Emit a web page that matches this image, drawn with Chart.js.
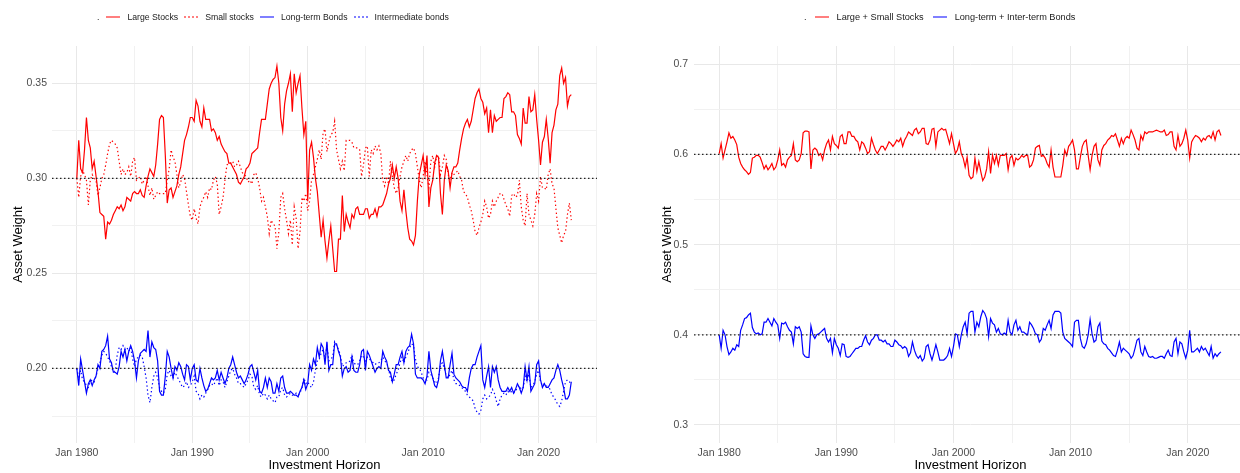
<!DOCTYPE html>
<html>
<head>
<meta charset="utf-8">
<script src="https://cdn.jsdelivr.net/npm/chart.js@4.4.0/dist/chart.umd.min.js"></script>
<style>
  html, body { margin: 0; padding: 0; background: #fff; overflow: hidden; }
  body { width: 1240px; height: 473px; position: relative; font-family: "Liberation Sans", Arial, sans-serif; }
  canvas { position: absolute; top: 0; }
  .legend { position: absolute; top: 12px; display: flex; align-items: center; font-size: 8.7px; line-height: 10px; color: #1a1a1a; white-space: nowrap; }
  .legend .ttl { margin-right: 7px; align-self: flex-end; }
  .legend .item { display: flex; align-items: center; margin-right: 6px; }
  .legend .key { width: 14px; height: 0; border-top: 2px solid; margin-right: 7px; }
  #rightLegend { font-size: 9.2px; top: 11.5px; }
  #rightLegend .ttl { margin-right: 8px; }
  #rightLegend .item { margin-right: 9px; }
  #rightLegend .key { margin-right: 8px; }
</style>
</head>
<body>
<canvas id="leftChart" width="597" height="473" style="left:0"></canvas>
<canvas id="rightChart" width="607" height="473" style="left:640px"></canvas>
<div class="legend" id="leftLegend" style="left:97px"></div>
<div class="legend" id="rightLegend" style="left:804px"></div>
<script>
// one point every 2 months, Jan 1980 onwards
const startYear = 1980;
const stepMonths = 2;

const largeStocks = [
  0.300, 0.320, 0.305, 0.303, 0.315, 0.332, 0.320, 0.316, 0.305, 0.309, 0.301, 0.293,
  0.282, 0.281, 0.280, 0.268, 0.277, 0.276, 0.278, 0.281, 0.283, 0.285, 0.284, 0.286,
  0.283, 0.285, 0.290, 0.289, 0.288, 0.292, 0.293, 0.292, 0.292, 0.294, 0.291, 0.290,
  0.296, 0.301, 0.305, 0.303, 0.301, 0.307, 0.318, 0.331, 0.333, 0.332, 0.312, 0.287,
  0.294, 0.295, 0.290, 0.293, 0.296, 0.302, 0.306, 0.313, 0.320, 0.323, 0.327, 0.332,
  0.332, 0.330, 0.341, 0.338, 0.330, 0.327, 0.337, 0.331, 0.331, 0.331, 0.325, 0.326,
  0.324, 0.320, 0.322, 0.318, 0.316, 0.314, 0.313, 0.308, 0.308, 0.306, 0.304, 0.302,
  0.298, 0.297, 0.299, 0.301, 0.305, 0.306, 0.308, 0.313, 0.314, 0.315, 0.316, 0.324,
  0.331, 0.331, 0.331, 0.339, 0.347, 0.350, 0.352, 0.353, 0.359, 0.350, 0.332, 0.325,
  0.339, 0.346, 0.350, 0.355, 0.335, 0.355, 0.345, 0.350, 0.354, 0.337, 0.323, 0.330,
  0.288, 0.315, 0.319, 0.311, 0.300, 0.293, 0.281, 0.269, 0.278, 0.267, 0.258, 0.267,
  0.275, 0.263, 0.251, 0.251, 0.268, 0.268, 0.291, 0.272, 0.281, 0.277, 0.274, 0.281,
  0.279, 0.284, 0.285, 0.281, 0.281, 0.281, 0.284, 0.284, 0.279, 0.281, 0.281, 0.284,
  0.280, 0.285, 0.285, 0.286, 0.289, 0.292, 0.297, 0.300, 0.307, 0.300, 0.306, 0.300,
  0.288, 0.283, 0.294, 0.283, 0.274, 0.268, 0.267, 0.265, 0.270, 0.288, 0.302, 0.307,
  0.312, 0.302, 0.312, 0.285, 0.295, 0.299, 0.308, 0.312, 0.311, 0.292, 0.281, 0.299,
  0.307, 0.304, 0.295, 0.303, 0.306, 0.306, 0.308, 0.315, 0.321, 0.326, 0.329, 0.331,
  0.327, 0.330, 0.336, 0.342, 0.345, 0.347, 0.342, 0.340, 0.334, 0.337, 0.324, 0.336,
  0.324, 0.333, 0.330, 0.331, 0.332, 0.332, 0.342, 0.343, 0.345, 0.344, 0.335, 0.335,
  0.333, 0.323, 0.321, 0.318, 0.337, 0.329, 0.329, 0.343, 0.335, 0.336, 0.344, 0.331,
  0.320, 0.307, 0.319, 0.322, 0.331, 0.321, 0.308, 0.324, 0.328, 0.336, 0.339, 0.354,
  0.358, 0.350, 0.353, 0.338, 0.343, 0.344
];

const smallStocks = [
  0.300, 0.290, 0.301, 0.304, 0.302, 0.299, 0.286, 0.299, 0.302, 0.300, 0.299, 0.291,
  0.295, 0.300, 0.302, 0.307, 0.313, 0.318, 0.320, 0.319, 0.318, 0.316, 0.309, 0.302,
  0.305, 0.302, 0.303, 0.306, 0.301, 0.309, 0.311, 0.299, 0.300, 0.301, 0.297, 0.299,
  0.301, 0.296, 0.291, 0.295, 0.289, 0.291, 0.293, 0.292, 0.292, 0.292, 0.292, 0.299,
  0.305, 0.315, 0.311, 0.309, 0.302, 0.295, 0.298, 0.302, 0.300, 0.293, 0.286, 0.280,
  0.278, 0.284, 0.279, 0.276, 0.285, 0.288, 0.290, 0.293, 0.290, 0.295, 0.294, 0.299,
  0.301, 0.297, 0.281, 0.285, 0.290, 0.299, 0.307, 0.308, 0.308, 0.309, 0.306, 0.307,
  0.309, 0.306, 0.303, 0.302, 0.301, 0.298, 0.299, 0.297, 0.302, 0.303, 0.300, 0.295,
  0.288, 0.290, 0.285, 0.280, 0.271, 0.278, 0.276, 0.275, 0.263, 0.272, 0.290, 0.292,
  0.284, 0.278, 0.271, 0.278, 0.265, 0.285, 0.279, 0.263, 0.272, 0.290, 0.288, 0.292,
  0.283, 0.288, 0.299, 0.302, 0.306, 0.310, 0.315, 0.310, 0.324, 0.326, 0.314, 0.319,
  0.323, 0.324, 0.330, 0.315, 0.310, 0.305, 0.309, 0.304, 0.320, 0.320, 0.320, 0.319,
  0.316, 0.316, 0.316, 0.315, 0.301, 0.307, 0.316, 0.317, 0.301, 0.315, 0.313, 0.317,
  0.315, 0.317, 0.313, 0.299, 0.296, 0.301, 0.297, 0.309, 0.301, 0.295, 0.292, 0.295,
  0.301, 0.306, 0.309, 0.312, 0.309, 0.313, 0.315, 0.316, 0.313, 0.306, 0.299, 0.295,
  0.301, 0.309, 0.302, 0.295, 0.309, 0.312, 0.306, 0.311, 0.312, 0.302, 0.306, 0.312,
  0.310, 0.302, 0.299, 0.303, 0.302, 0.303, 0.304, 0.301, 0.299, 0.293, 0.292, 0.290,
  0.286, 0.283, 0.278, 0.272, 0.270, 0.274, 0.277, 0.281, 0.288, 0.285, 0.279, 0.281,
  0.288, 0.285, 0.288, 0.290, 0.292, 0.292, 0.289, 0.286, 0.284, 0.280, 0.291, 0.292,
  0.290, 0.291, 0.299, 0.285, 0.278, 0.275, 0.292, 0.281, 0.278, 0.275, 0.281, 0.292,
  0.288, 0.301, 0.295, 0.295, 0.294, 0.302, 0.305, 0.297, 0.295, 0.284, 0.274, 0.270,
  0.266, 0.270, 0.272, 0.281, 0.287, 0.278
];

const longBonds = [
  0.200, 0.191, 0.205, 0.199, 0.193, 0.187, 0.192, 0.194, 0.191, 0.194, 0.196, 0.202,
  0.200, 0.209, 0.210, 0.212, 0.217, 0.205, 0.203, 0.198, 0.198, 0.197, 0.201, 0.209,
  0.206, 0.210, 0.204, 0.209, 0.212, 0.209, 0.204, 0.195, 0.204, 0.208, 0.209, 0.210,
  0.209, 0.220, 0.206, 0.214, 0.211, 0.210, 0.204, 0.188, 0.186, 0.186, 0.196, 0.209,
  0.206, 0.200, 0.195, 0.201, 0.199, 0.203, 0.201, 0.197, 0.194, 0.202, 0.201, 0.194,
  0.200, 0.202, 0.194, 0.193, 0.200, 0.195, 0.191, 0.188, 0.189, 0.192, 0.195, 0.194,
  0.195, 0.199, 0.194, 0.198, 0.195, 0.192, 0.195, 0.200, 0.202, 0.206, 0.202, 0.198,
  0.195, 0.196, 0.194, 0.192, 0.194, 0.197, 0.201, 0.202, 0.198, 0.194, 0.199, 0.188,
  0.187, 0.190, 0.195, 0.190, 0.195, 0.193, 0.187, 0.187, 0.192, 0.188, 0.195, 0.196,
  0.190, 0.187, 0.187, 0.188, 0.187, 0.186, 0.186, 0.185, 0.188, 0.190, 0.194, 0.189,
  0.192, 0.202, 0.199, 0.205, 0.202, 0.211, 0.206, 0.213, 0.211, 0.202, 0.214, 0.199,
  0.202, 0.202, 0.213, 0.213, 0.209, 0.206, 0.196, 0.200, 0.201, 0.198, 0.199, 0.206,
  0.199, 0.198, 0.198, 0.202, 0.209, 0.210, 0.199, 0.209, 0.207, 0.204, 0.201, 0.198,
  0.200, 0.201, 0.200, 0.209, 0.206, 0.204, 0.199, 0.198, 0.193, 0.197, 0.202, 0.202,
  0.206, 0.209, 0.203, 0.209, 0.211, 0.212, 0.218, 0.213, 0.197, 0.195, 0.195, 0.195,
  0.194, 0.192, 0.196, 0.209, 0.199, 0.195, 0.191, 0.190, 0.194, 0.204, 0.209, 0.202,
  0.195, 0.195, 0.202, 0.208, 0.197, 0.195, 0.194, 0.193, 0.191, 0.190, 0.190, 0.188,
  0.195, 0.200, 0.202, 0.202, 0.206, 0.209, 0.212, 0.194, 0.190, 0.196, 0.201, 0.190,
  0.201, 0.198, 0.201, 0.194, 0.190, 0.188, 0.188, 0.188, 0.190, 0.188, 0.190, 0.187,
  0.189, 0.192, 0.190, 0.187, 0.190, 0.201, 0.194, 0.201, 0.188, 0.190, 0.192, 0.202,
  0.204, 0.194, 0.190, 0.192, 0.190, 0.190, 0.192, 0.194, 0.195, 0.199, 0.202, 0.199,
  0.194, 0.190, 0.184, 0.184, 0.186, 0.193
];

const interBonds = [
  0.200, 0.195, 0.199, 0.194, 0.193, 0.191, 0.190, 0.193, 0.194, 0.193, 0.196, 0.200,
  0.203, 0.207, 0.209, 0.208, 0.206, 0.204, 0.201, 0.198, 0.199, 0.207, 0.211, 0.210,
  0.212, 0.210, 0.211, 0.209, 0.211, 0.205, 0.201, 0.205, 0.206, 0.207, 0.206, 0.201,
  0.195, 0.186, 0.182, 0.190, 0.196, 0.198, 0.195, 0.190, 0.188, 0.187, 0.189, 0.197,
  0.199, 0.196, 0.195, 0.198, 0.196, 0.194, 0.192, 0.190, 0.191, 0.193, 0.190, 0.191,
  0.193, 0.196, 0.188, 0.187, 0.184, 0.186, 0.185, 0.187, 0.189, 0.191, 0.192, 0.191,
  0.193, 0.195, 0.191, 0.194, 0.193, 0.190, 0.193, 0.196, 0.199, 0.200, 0.197, 0.195,
  0.192, 0.192, 0.191, 0.190, 0.192, 0.194, 0.197, 0.196, 0.190, 0.189, 0.191, 0.186,
  0.185, 0.187, 0.186, 0.184, 0.186, 0.184, 0.183, 0.182, 0.185, 0.185, 0.189, 0.190,
  0.186, 0.185, 0.186, 0.187, 0.186, 0.186, 0.187, 0.186, 0.187, 0.190, 0.195, 0.192,
  0.193, 0.191, 0.190, 0.193, 0.199, 0.204, 0.205, 0.208, 0.210, 0.205, 0.212, 0.204,
  0.205, 0.206, 0.214, 0.212, 0.210, 0.207, 0.201, 0.202, 0.203, 0.203, 0.204, 0.207,
  0.203, 0.202, 0.202, 0.204, 0.207, 0.206, 0.203, 0.206, 0.205, 0.204, 0.203, 0.202,
  0.203, 0.203, 0.204, 0.206, 0.204, 0.203, 0.200, 0.195, 0.193, 0.194, 0.197, 0.199,
  0.203, 0.206, 0.203, 0.206, 0.208, 0.211, 0.213, 0.212, 0.205, 0.201, 0.200, 0.198,
  0.195, 0.194, 0.194, 0.198, 0.197, 0.195, 0.193, 0.192, 0.195, 0.202, 0.203, 0.200,
  0.196, 0.195, 0.197, 0.199, 0.194, 0.192, 0.192, 0.191, 0.190, 0.189, 0.188, 0.186,
  0.185, 0.184, 0.183, 0.179, 0.177, 0.176, 0.178, 0.184, 0.186, 0.184, 0.185, 0.186,
  0.189, 0.187, 0.183, 0.180, 0.184, 0.186, 0.187, 0.186, 0.188, 0.187, 0.188, 0.187,
  0.188, 0.190, 0.191, 0.189, 0.190, 0.196, 0.193, 0.197, 0.190, 0.191, 0.193, 0.197,
  0.199, 0.193, 0.191, 0.192, 0.191, 0.190, 0.189, 0.186, 0.185, 0.183, 0.181, 0.180,
  0.183, 0.188, 0.193, 0.194, 0.193, 0.192
];

const allStocks = [
  0.601, 0.612, 0.596, 0.605, 0.614, 0.624, 0.618, 0.620, 0.616, 0.611, 0.597, 0.590,
  0.586, 0.583, 0.581, 0.578, 0.580, 0.596, 0.597, 0.599, 0.599, 0.597, 0.591, 0.584,
  0.588, 0.583, 0.586, 0.590, 0.583, 0.586, 0.594, 0.605, 0.588, 0.590, 0.586, 0.594,
  0.597, 0.599, 0.612, 0.594, 0.592, 0.594, 0.601, 0.624, 0.626, 0.626, 0.625, 0.584,
  0.605, 0.607, 0.605, 0.599, 0.601, 0.594, 0.605, 0.612, 0.616, 0.605, 0.620, 0.612,
  0.610, 0.607, 0.620, 0.622, 0.612, 0.612, 0.625, 0.625, 0.620, 0.620, 0.616, 0.614,
  0.605, 0.614, 0.612, 0.607, 0.601, 0.603, 0.618, 0.611, 0.605, 0.601, 0.605, 0.609,
  0.609, 0.605, 0.609, 0.614, 0.612, 0.609, 0.612, 0.616, 0.614, 0.618, 0.609, 0.616,
  0.620, 0.625, 0.623, 0.621, 0.627, 0.629, 0.623, 0.625, 0.629, 0.629, 0.612, 0.611,
  0.616, 0.628, 0.629, 0.609, 0.625, 0.627, 0.629, 0.627, 0.628, 0.620, 0.612, 0.623,
  0.612, 0.601, 0.605, 0.614, 0.601, 0.596, 0.586, 0.597, 0.577, 0.573, 0.575, 0.596,
  0.581, 0.592, 0.581, 0.571, 0.575, 0.584, 0.603, 0.579, 0.599, 0.590, 0.599, 0.588,
  0.599, 0.599, 0.599, 0.601, 0.583, 0.596, 0.599, 0.588, 0.596, 0.594, 0.596, 0.599,
  0.597, 0.599, 0.599, 0.586, 0.588, 0.594, 0.607, 0.609, 0.610, 0.598, 0.599, 0.596,
  0.590, 0.586, 0.605, 0.586, 0.575, 0.575, 0.575, 0.575, 0.588, 0.605, 0.599, 0.609,
  0.612, 0.616, 0.605, 0.584, 0.584, 0.597, 0.609, 0.614, 0.616, 0.599, 0.583, 0.599,
  0.609, 0.612, 0.594, 0.588, 0.605, 0.610, 0.612, 0.616, 0.618, 0.621, 0.620, 0.623,
  0.616, 0.609, 0.618, 0.612, 0.618, 0.620, 0.618, 0.627, 0.622, 0.616, 0.607, 0.605,
  0.621, 0.616, 0.625, 0.623, 0.625, 0.625, 0.625, 0.626, 0.627, 0.626, 0.625, 0.625,
  0.627, 0.621, 0.622, 0.625, 0.625, 0.609, 0.605, 0.621, 0.609, 0.612, 0.618, 0.627,
  0.616, 0.596, 0.614, 0.618, 0.621, 0.620, 0.618, 0.614, 0.618, 0.616, 0.620, 0.621,
  0.618, 0.625, 0.616, 0.625, 0.627, 0.621
];

const allBonds = [
  0.400, 0.385, 0.405, 0.400, 0.387, 0.378, 0.381, 0.385, 0.383, 0.389, 0.387, 0.405,
  0.411, 0.418, 0.419, 0.422, 0.424, 0.408, 0.403, 0.401, 0.402, 0.400, 0.401, 0.414,
  0.414, 0.418, 0.414, 0.410, 0.418, 0.414, 0.411, 0.396, 0.413, 0.412, 0.414, 0.409,
  0.405, 0.403, 0.390, 0.409, 0.407, 0.409, 0.403, 0.379, 0.376, 0.375, 0.375, 0.410,
  0.400, 0.396, 0.400, 0.401, 0.403, 0.405, 0.407, 0.396, 0.392, 0.396, 0.380, 0.396,
  0.389, 0.385, 0.377, 0.390, 0.389, 0.376, 0.375, 0.376, 0.379, 0.382, 0.385, 0.385,
  0.387, 0.387, 0.394, 0.399, 0.392, 0.389, 0.394, 0.396, 0.400, 0.400, 0.394, 0.394,
  0.392, 0.394, 0.390, 0.390, 0.387, 0.387, 0.394, 0.392, 0.389, 0.388, 0.385, 0.387,
  0.385, 0.376, 0.380, 0.392, 0.383, 0.377, 0.374, 0.377, 0.371, 0.374, 0.387, 0.389,
  0.379, 0.372, 0.380, 0.389, 0.381, 0.372, 0.372, 0.372, 0.374, 0.377, 0.385, 0.376,
  0.387, 0.401, 0.400, 0.387, 0.400, 0.409, 0.414, 0.401, 0.424, 0.426, 0.426, 0.403,
  0.414, 0.409, 0.420, 0.427, 0.424, 0.418, 0.398, 0.418, 0.413, 0.411, 0.403, 0.407,
  0.401, 0.400, 0.402, 0.400, 0.416, 0.403, 0.400, 0.411, 0.416, 0.405, 0.409, 0.403,
  0.403, 0.401, 0.400, 0.414, 0.411, 0.407, 0.401, 0.400, 0.392, 0.395, 0.407, 0.405,
  0.411, 0.416, 0.407, 0.422, 0.426, 0.426, 0.426, 0.424, 0.403, 0.396, 0.394, 0.392,
  0.390, 0.387, 0.414, 0.416, 0.416, 0.396, 0.387, 0.385, 0.390, 0.400, 0.417, 0.401,
  0.392, 0.394, 0.409, 0.413, 0.393, 0.390, 0.389, 0.385, 0.383, 0.380, 0.377, 0.376,
  0.383, 0.392, 0.381, 0.385, 0.383, 0.381, 0.379, 0.374, 0.377, 0.385, 0.394, 0.396,
  0.381, 0.377, 0.387, 0.381, 0.376, 0.375, 0.376, 0.374, 0.374, 0.375, 0.376, 0.376,
  0.374, 0.379, 0.383, 0.377, 0.376, 0.392, 0.396, 0.379, 0.392, 0.390, 0.381, 0.374,
  0.383, 0.405, 0.381, 0.381, 0.383, 0.385, 0.381, 0.387, 0.383, 0.385, 0.381, 0.377,
  0.387, 0.374, 0.379, 0.376, 0.379, 0.381
];

// dotted reference levels
const leftRefLevels = [0.30, 0.20];
const rightRefLevels = [0.60, 0.40];

// axes
const xTicks = [1980, 1985, 1990, 1995, 2000, 2005, 2010, 2015, 2020, 2025];
const xTickLabels = ['Jan 1980', '', 'Jan 1990', '', 'Jan 2000', '', 'Jan 2010', '', 'Jan 2020', ''];
const leftYTicks = [0.175, 0.20, 0.225, 0.25, 0.275, 0.30, 0.325, 0.35];
const leftYTickLabels = ['', '0.20', '', '0.25', '', '0.30', '', '0.35'];
const rightYTicks = [0.30, 0.35, 0.40, 0.45, 0.50, 0.55, 0.60, 0.65, 0.70];
const rightYTickLabels = ['0.3', '', '0.4', '', '0.5', '', '0.6', '', '0.7'];

const dates = largeStocks.map((_, i) => startYear + i * stepMonths / 12);
const xMin = 1977.85, xMax = 2025.06;

const FONT = '"Liberation Sans", Arial, Helvetica, sans-serif';
const RED = '#ff0000', BLUE = '#0000ff';

function toPoints(vals) {
  return vals.map((v, i) => ({ x: dates[i], y: v }));
}

function refLine(level) {
  return {
    data: [{ x: xMin, y: level }, { x: xMax, y: level }],
    borderColor: '#222', borderWidth: 1.3, borderDash: [1.5, 2.5],
    pointRadius: 0, order: 0
  };
}

function series(vals, color, dotted) {
  return {
    data: toPoints(vals),
    borderColor: color, borderWidth: 1.2,
    borderDash: dotted ? [1.4, 2.6] : [],
    pointRadius: 0, tension: 0, order: 1
  };
}

function buildOptions(cfg) {
  return {
    responsive: false,
    animation: false,
    events: [],
    layout: { padding: { top: 46, left: 0, right: 0, bottom: 0 } },
    plugins: { legend: { display: false }, tooltip: { enabled: false } },
    scales: {
      x: {
        type: 'linear', min: xMin, max: xMax,
        afterBuildTicks: axis => { axis.ticks = xTicks.map(v => ({ value: v })); },
        afterFit: axis => { axis.height = 30; axis.paddingLeft = 0; axis.paddingRight = 0; },
        grid: {
          drawTicks: false,
          color: ctx => xTickLabels[ctx.index] ? '#e8e8e8' : '#f1f1f1',
          lineWidth: 1
        },
        border: { display: false },
        ticks: {
          autoSkip: false, maxRotation: 0, padding: 3.5,
          color: '#4d4d4d', font: { family: FONT, size: 10.5 },
          callback: (v, i) => xTickLabels[i]
        },
        title: {
          display: true, text: 'Investment Horizon', color: '#000',
          font: { family: FONT, size: 13 }, padding: { top: 0, bottom: 0 }
        }
      },
      y: {
        min: cfg.yMin, max: cfg.yMax,
        afterBuildTicks: axis => { axis.ticks = cfg.yTicks.map(v => ({ value: v })); },
        afterFit: axis => { axis.width = cfg.yWidth; axis.paddingTop = 0; axis.paddingBottom = 0; },
        grid: {
          drawTicks: false,
          color: ctx => cfg.yLabels[ctx.index] ? '#e8e8e8' : '#f1f1f1',
          lineWidth: 1
        },
        border: { display: false },
        ticks: {
          autoSkip: false, padding: cfg.tickPad,
          color: '#4d4d4d', font: { family: FONT, size: 10.5 },
          callback: (v, i) => cfg.yLabels[i]
        },
        title: {
          display: true, text: 'Asset Weight', color: '#000',
          font: { family: FONT, size: 13 }, padding: { top: cfg.titlePad, bottom: 0 }
        }
      }
    }
  };
}

new Chart(document.getElementById('leftChart'), {
  type: 'line',
  data: {
    datasets: [
      ...leftRefLevels.map(refLine),
      series(largeStocks, RED, false),
      series(smallStocks, RED, true),
      series(longBonds, BLUE, false),
      series(interBonds, BLUE, true)
    ]
  },
  options: buildOptions({
    yMin: 0.1608, yMax: 0.3696, yTicks: leftYTicks, yLabels: leftYTickLabels,
    yWidth: 52, tickPad: 5, titlePad: 11
  })
});

new Chart(document.getElementById('rightChart'), {
  type: 'line',
  data: {
    datasets: [
      ...rightRefLevels.map(refLine),
      series(allStocks, RED, false),
      series(allBonds, BLUE, false)
    ]
  },
  options: buildOptions({
    yMin: 0.28, yMax: 0.7203, yTicks: rightYTicks, yLabels: rightYTickLabels,
    yWidth: 54, tickPad: 6, titlePad: 20
  })
});

// legends
function buildLegend(id, items) {
  const box = document.getElementById(id);
  box.innerHTML = '<span class="ttl">.</span>' + items.map(it =>
    `<span class="item"><span class="key" style="border-top-color:${it.color};border-top-style:${it.style}"></span>${it.label}</span>`
  ).join('');
}

buildLegend('leftLegend', [
  { label: 'Large Stocks', color: 'rgba(255,0,0,0.5)', style: 'solid' },
  { label: 'Small stocks', color: 'rgba(255,0,0,0.5)', style: 'dotted' },
  { label: 'Long-term Bonds', color: 'rgba(0,0,255,0.5)', style: 'solid' },
  { label: 'Intermediate bonds', color: 'rgba(0,0,255,0.5)', style: 'dotted' }
]);
buildLegend('rightLegend', [
  { label: 'Large + Small Stocks', color: 'rgba(255,0,0,0.5)', style: 'solid' },
  { label: 'Long-term + Inter-term Bonds', color: 'rgba(0,0,255,0.5)', style: 'solid' }
]);
</script>
</body>
</html>
